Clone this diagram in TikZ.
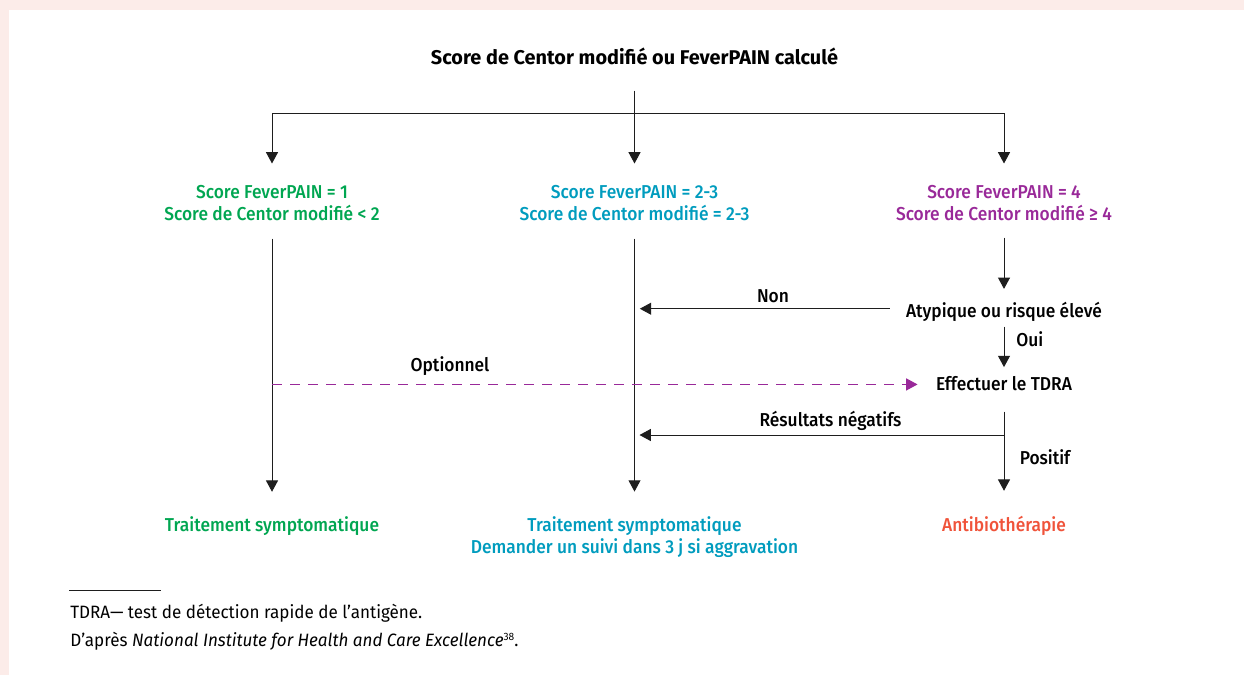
\documentclass[tikz,border=0pt]{standalone}
\usepackage{fontspec}
\setmainfont{Fira Sans}
\newfontfamily\firamedium{Fira Sans Medium}[FakeStretch=0.93]
\newfontfamily\firanote{Fira Sans}[FakeStretch=0.955]
\usetikzlibrary{arrows.meta}

\definecolor{rosefond}{RGB}{252,236,233}
\definecolor{trait}{RGB}{30,30,30}
\definecolor{vert}{RGB}{0,166,81}
\definecolor{bleu}{RGB}{0,156,190}
\definecolor{violet}{RGB}{153,41,153}
\definecolor{rouge}{RGB}{240,83,58}

\tikzset{
  fleche/.style={draw=trait, line width=0.75pt, -{Triangle[width=9pt,length=8.5pt]}},
  pointille/.style={draw=violet, line width=0.75pt, dash pattern=on 7.5pt off 6pt, -{Triangle[width=9pt,length=8.5pt]}, violet},
  texte/.style={inner sep=0pt, font=\fontsize{14pt}{16.5pt}\firamedium, align=center},
  note/.style={inner sep=0pt, font=\fontsize{13.4pt}{21pt}\firanote, anchor=base west}
}

\begin{document}
\begin{tikzpicture}[x=0.75pt, y=-0.75pt]
% fond
\fill[rosefond] (0,0) rectangle (1244,675);
\fill[white] (9,10) rectangle (1244,675);
\useasboundingbox (0,0) rectangle (1244,675);

% titre et branches
\node[texte, anchor=base, font=\fontsize{14.9pt}{16.5pt}\selectfont\bfseries] (titre) at (634.5,64) {Score de Centor modifié ou FeverPAIN calculé};
\coordinate (depart) at (634.5,90.7);
\coordinate (fourche) at (634.5,113.3);
\node[texte, text=vert] (faible) at (272,203.5) {Score FeverPAIN = 1\\Score de Centor modifié < 2};
\node[texte, text=bleu] (moyen) at (634.5,203.5) {Score FeverPAIN = 2-3\\Score de Centor modifié = 2-3};
\node[texte, text=violet] (eleve) at (1004,203.5) {Score FeverPAIN = 4\\Score de Centor modifié ≥ 4};

% branche droite
\node[texte, anchor=base] (atyp) at (1004,317) {Atypique ou risque élevé};
\node[texte, anchor=base] (tdra) at (1004,390) {Effectuer le TDRA};
\coordinate (negatif) at (1004,435);

% issues
\node[texte, text=vert] (symp) at (272,526.5) {Traitement symptomatique};
\node[texte, text=bleu, font=\fontsize{14pt}{16pt}\firamedium] (suivi) at (634.5,537) {Traitement symptomatique\\Demander un suivi dans 3 j si aggravation};
\node[texte, text=rouge, anchor=base] (antibio) at (1004,531) {Antibiothérapie};

% libelles
\node[texte, anchor=base] (lnon) at (773,302) {Non};
\node[texte, anchor=base west] (loui) at (1016,346) {Oui};
\node[texte, anchor=base] (lopt) at (450,371.7) {Optionnel};
\node[texte, anchor=base] (lneg) at (830.5,426.7) {Résultats négatifs};
\node[texte, anchor=base west] (lpos) at (1019.5,464) {Positif};

% connecteurs
\draw[trait, line width=0.75pt] (fourche -| faible) -- (fourche -| eleve);
\draw[fleche, shorten >=16.5pt] (depart) -- (moyen.north);
\draw[fleche, shorten >=16.5pt] (fourche -| faible) -- (faible.north);
\draw[fleche, shorten >=16.5pt] (fourche -| eleve) -- (eleve.north);
\draw[fleche, shorten <=12.75pt, shorten >=18.75pt] (faible.south) -- (symp.north);
\draw[fleche, shorten <=12.75pt, shorten >=18.75pt] (moyen.south) -- (suivi.north);
\draw[fleche, shorten <=12pt, shorten >=9.4pt] (eleve.south) -- (atyp.north);
\draw[fleche, shorten <=4pt, shorten >=6.4pt] (atyp.south) -- (tdra.north);
\draw[fleche, shorten <=12pt, shorten >=4pt] ([yshift=2pt]atyp.west) -- ([yshift=2pt]atyp.west -| moyen.south);
\draw[pointille, shorten >=13.7pt] ([yshift=-1pt]tdra.west -| faible.south) -- ([yshift=-1pt]tdra.west);
\draw[fleche, shorten <=15.75pt, shorten >=18.5pt] (tdra.south) -- (antibio.north);
\draw[fleche, shorten >=3.75pt] (negatif) -- (negatif -| moyen.south);

% note
\draw[trait, line width=0.5pt] (69,590.7) -- (161,590.7);
\node[note] (note1) at (70,618) {TDRA— test de détection rapide de l’antigène.};
\node[note] (note2) at (70,646) {D’après \textit{National Institute for Health and Care Excellence}{\fontsize{8pt}{8pt}\selectfont\raisebox{4.5pt}{38}}.};
\end{tikzpicture}
\end{document}
